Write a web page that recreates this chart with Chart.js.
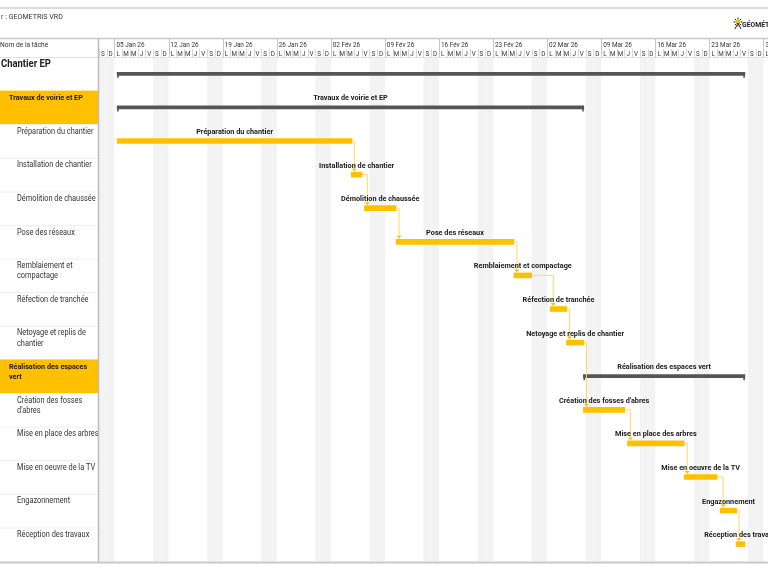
<!DOCTYPE html>
<html lang="fr">
<head>
<meta charset="utf-8">
<title>Chantier EP - Gantt</title>
<script src="https://cdn.jsdelivr.net/npm/chart.js@4.4.1/dist/chart.umd.min.js"></script>
<style>
    html, body { margin: 0; padding: 0; background: #fff; }
    #wrap { width: 768px; height: 570px; position: relative; }
</style>
</head>
<body>
<div id="wrap"><canvas id="gantt"></canvas></div>
<script>
// Jour 0 = samedi 03 Jan 2026, une unité = un jour
const taskNames = [
    'Chantier EP',
    'Travaux de voirie et EP',
    'Préparation du chantier',
    'Installation de chantier',
    'Démolition de chaussée',
    'Pose des réseaux',
    'Remblaiement et compactage',
    'Réfection de tranchée',
    'Netoyage et replis de chantier',
    'Réalisation des espaces vert',
    "Création des fosses d'abres",
    'Mise en place des arbres',
    'Mise en oeuvre de la TV',
    'Engazonnement',
    'Réception des travaux',
];
// 0 = projet, 1 = phase récapitulative, 2 = tâche
const taskLevels = [0, 1, 2, 2, 2, 2, 2, 2, 2, 1, 2, 2, 2, 2, 2];
const taskStarts = [2.35, 2.35, 2.35, 32.65, 34.35, 38.45, 53.7, 58.4, 60.5, 62.7, 62.7, 68.4, 75.75, 80.4, 82.45];
const taskEnds = [83.6, 62.75, 32.75, 34.05, 38.45, 53.7, 56.0, 60.55, 62.75, 83.6, 68.05, 75.75, 80.0, 82.55, 83.6];
// index de la tâche prédécesseur (-1 = aucun)
const predecessors = [-1, -1, -1, 2, 3, 4, 5, 6, 7, -1, 8, 10, 11, 12, 13];

const weekLabels = ['05 Jan 26', '12 Jan 26', '19 Jan 26', '26 Jan 26', '02 Fév 26', '09 Fév 26',
    '16 Fév 26', '23 Fév 26', '02 Mar 26', '09 Mar 26', '16 Mar 26', '23 Mar 26', '30 Mar 26'];
const dayLetters = ['S', 'D', 'L', 'M', 'M', 'J', 'V'];

const FONT = 'Roboto, "Noto Sans", sans-serif';
const SX = 0.9; // texte légèrement condensé, comme l'export MS Project
const YELLOW = '#FFC000';
const SUMMARY = '#555555';

function font(size, weight) {
    return (weight || 'normal') + ' ' + size + 'px ' + FONT;
}

function drawText(ctx, text, x, y) {
    ctx.save();
    ctx.translate(x, y);
    ctx.scale(SX, 1);
    ctx.fillText(text, 0, 0);
    ctx.restore();
}

function wrapText(ctx, text, maxWidth) {
    const words = text.split(' ');
    const lines = [];
    let line = '';
    words.forEach((w) => {
        const test = line ? line + ' ' + w : w;
        if (line && ctx.measureText(test).width * SX > maxWidth) {
            lines.push(line);
            line = w;
        } else {
            line = test;
        }
    });
    if (line) lines.push(line);
    return lines;
}

function hline(ctx, x1, x2, y, color, width) {
    ctx.strokeStyle = color;
    ctx.lineWidth = width;
    ctx.beginPath();
    ctx.moveTo(x1, y);
    ctx.lineTo(x2, y);
    ctx.stroke();
}

function vline(ctx, x, y1, y2, color, width) {
    ctx.strokeStyle = color;
    ctx.lineWidth = width;
    ctx.beginPath();
    ctx.moveTo(x, y1);
    ctx.lineTo(x, y2);
    ctx.stroke();
}

// fond : week-ends grisés + panneau des noms de tâches + entête
const backgroundPlugin = {
    id: 'ganttBackground',
    beforeDatasetsDraw(chart) {
        const { ctx, chartArea } = chart;
        const xs = chart.scales.x;
        const rowH = (chartArea.bottom - chartArea.top) / taskNames.length;
        ctx.save();

        // week-ends
        ctx.fillStyle = '#f3f3f3';
        for (let d = 0; d < 90; d++) {
            if (d % 7 > 1) continue;
            const x1 = Math.max(xs.getPixelForValue(d), chartArea.left);
            const x2 = Math.min(xs.getPixelForValue(d + 1), chartArea.right);
            if (x2 > x1) ctx.fillRect(x1, chartArea.top, x2 - x1, chartArea.bottom - chartArea.top);
        }

        // panneau gauche
        const panelW = chartArea.left - 1;
        ctx.textBaseline = 'middle';
        ctx.textAlign = 'left';
        taskNames.forEach((name, i) => {
            const top = chartArea.top + i * rowH;
            const lvl = taskLevels[i];
            if (lvl === 1) {
                ctx.fillStyle = YELLOW;
                ctx.fillRect(0, top, panelW, rowH);
            } else if (i > 1) {
                hline(ctx, 0, panelW, top + 0.5, '#eeeeee', 1);
            }
            ctx.fillStyle = '#222';
            if (lvl === 0) {
                ctx.font = font(10.5, 'bold');
                drawText(ctx, name, 1, top + 7);
                return;
            }
            const x = lvl === 1 ? 9 : 17;
            ctx.font = lvl === 1 ? font(8, 'bold') : font(8.2);
            ctx.fillStyle = lvl === 1 ? '#1a1a1a' : '#333';
            wrapText(ctx, name, panelW - x + 3).forEach((ln, k) => {
                drawText(ctx, ln, x, top + 7.5 + k * 10.2);
            });
        });

        // entête
        hline(ctx, 0, chart.width, 8, '#dcdcdc', 2);
        ctx.fillStyle = '#333';
        ctx.font = font(7.9);
        drawText(ctx, 'r : GEOMETRIS VRD', 1, 17.5);
        hline(ctx, 0, chart.width, 38.5, '#c8c8c8', 1.5);
        ctx.font = font(7.4);
        drawText(ctx, 'Nom de la tâche', 0, 45.5);

        ctx.font = font(7.1);
        weekLabels.forEach((lbl, w) => {
            const x = xs.getPixelForValue(2 + w * 7);
            vline(ctx, Math.round(x) + 0.5, 39, 57, '#c8c8c8', 1);
            ctx.fillStyle = '#333';
            ctx.textAlign = 'left';
            drawText(ctx, lbl, x + 2, 45.5);
        });
        ctx.font = font(7);
        ctx.textAlign = 'center';
        for (let d = 0; d < 90; d++) {
            const x1 = xs.getPixelForValue(d);
            const x2 = xs.getPixelForValue(d + 1);
            if (x1 >= chart.width) break;
            if (d % 7 !== 2) vline(ctx, Math.round(x1) + 0.5, 49, 57, '#d6d6d6', 1);
            ctx.fillStyle = '#333';
            drawText(ctx, dayLetters[d % 7], (x1 + x2) / 2, 54);
        }
        hline(ctx, 0, chart.width, 57.5, '#e2e2e2', 1);

        vline(ctx, chartArea.left - 0.5, 38, chartArea.bottom + 1, '#bcbcbc', 1.5);
        hline(ctx, 0, chart.width, chartArea.bottom + 1.5, '#c8c8c8', 2);

        // logo
        const lx = 738, ly = 22;
        ctx.fillStyle = '#f2c200';
        ctx.beginPath();
        ctx.arc(lx, ly, 2.4, 0, Math.PI * 2);
        ctx.fill();
        ctx.strokeStyle = '#222';
        ctx.lineWidth = 1;
        for (let a = 0; a < 8; a++) {
            const ang = a * Math.PI / 4;
            ctx.beginPath();
            ctx.moveTo(lx + Math.cos(ang) * 2.6, ly + Math.sin(ang) * 2.6);
            ctx.lineTo(lx + Math.cos(ang) * 4.4, ly + Math.sin(ang) * 4.4);
            ctx.stroke();
        }
        ctx.beginPath();
        ctx.moveTo(lx - 3, ly + 7);
        ctx.lineTo(lx, ly + 1);
        ctx.lineTo(lx + 3, ly + 7);
        ctx.stroke();
        ctx.fillStyle = '#222';
        ctx.textAlign = 'left';
        ctx.font = font(7.6, 'bold');
        drawText(ctx, 'GÉOMÉTRIS', 742, 25.5);

        ctx.restore();
    },
};

// bords des récapitulatives, liaisons et étiquettes des barres
const overlayPlugin = {
    id: 'ganttOverlay',
    afterDatasetsDraw(chart) {
        const { ctx, chartArea } = chart;
        const xs = chart.scales.x;
        const ys = chart.scales.y;
        ctx.save();
        ctx.beginPath();
        ctx.rect(chartArea.left, chartArea.top - 2, chartArea.right - chartArea.left, chartArea.bottom - chartArea.top + 4);
        ctx.clip();

        // liaisons fin -> début
        predecessors.forEach((p, i) => {
            if (p < 0) return;
            const xe = xs.getPixelForValue(taskEnds[p]);
            const ye = ys.getPixelForValue(p);
            const xsNext = xs.getPixelForValue(taskStarts[i]);
            const yn = ys.getPixelForValue(i) - 3;
            const xv = Math.max(xe + 2, xsNext + 3);
            ctx.strokeStyle = '#ffd966';
            ctx.lineWidth = 1;
            ctx.beginPath();
            ctx.moveTo(xe, ye);
            ctx.lineTo(xv, ye);
            ctx.lineTo(xv, yn - 2);
            ctx.stroke();
            ctx.fillStyle = YELLOW;
            ctx.beginPath();
            ctx.moveTo(xv - 2.5, yn - 3);
            ctx.lineTo(xv + 2.5, yn - 3);
            ctx.lineTo(xv, yn);
            ctx.closePath();
            ctx.fill();
        });

        // extrémités des barres récapitulatives
        taskLevels.forEach((lvl, i) => {
            if (lvl > 1) return;
            const y = ys.getPixelForValue(i);
            [taskStarts[i], taskEnds[i]].forEach((v, k) => {
                const x = xs.getPixelForValue(v) + (k === 0 ? 0.8 : -0.8);
                vline(ctx, x, y - 1.5, y + 4, SUMMARY, 1.6);
            });
        });

        // étiquettes
        ctx.fillStyle = '#1a1a1a';
        ctx.font = font(8.1, 'bold');
        ctx.textAlign = 'center';
        ctx.textBaseline = 'middle';
        taskNames.forEach((name, i) => {
            if (taskLevels[i] === 0) return;
            const xc = (xs.getPixelForValue(taskStarts[i]) + xs.getPixelForValue(taskEnds[i])) / 2;
            drawText(ctx, name, xc, ys.getPixelForValue(i) - 9);
        });
        ctx.restore();
    },
};

const rangeData = taskStarts.map((s, i) => [s, taskEnds[i]]);

const canvas = document.getElementById('gantt');
canvas.width = 768;
canvas.height = 570;
canvas.style.width = '768px';
canvas.style.height = '570px';

new Chart(canvas.getContext('2d'), {
    type: 'bar',
    data: {
        labels: taskNames,
        datasets: [
            {
                label: 'Récapitulatif',
                data: rangeData.map((r, i) => (taskLevels[i] < 2 ? r : null)),
                backgroundColor: SUMMARY,
                barThickness: 3,
                borderSkipped: false,
                grouped: false,
            },
            {
                label: 'Tâches',
                data: rangeData.map((r, i) => (taskLevels[i] === 2 ? r : null)),
                backgroundColor: YELLOW,
                barThickness: 5,
                borderSkipped: false,
                grouped: false,
            },
        ],
    },
    options: {
        indexAxis: 'y',
        responsive: false,
        animation: false,
        devicePixelRatio: 1,
        layout: {
            padding: { left: 99, top: 57, right: 0, bottom: 9 },
        },
        plugins: {
            legend: { display: false },
            tooltip: { enabled: false },
            title: { display: false },
        },
        scales: {
            x: {
                type: 'linear',
                min: 0,
                max: 86.59,
                display: false,
            },
            y: {
                type: 'category',
                display: false,
            },
        },
    },
    plugins: [backgroundPlugin, overlayPlugin],
});
</script>
</body>
</html>
